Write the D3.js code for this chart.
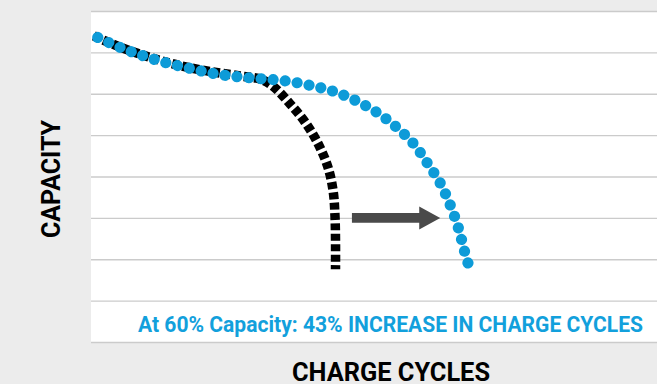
<!DOCTYPE html>
<html>
<head>
<meta charset="utf-8">
<script src="https://cdn.jsdelivr.net/npm/d3@7"></script>
<style>
  html, body { margin: 0; padding: 0; background: #ececec; }
  svg { display: block; }
</style>
</head>
<body>
<div id="corpo"></div>
<script>
// capacity (arbitrary units) vs charge cycles
var yTicks = [0, 10, 20, 30, 40, 50, 60, 70, 80];

// standard cell: black dashed curve
var stdCycles   = [5, 51, 104, 157, 210, 263, 302, 325, 352, 378, 401, 419, 428, 431, 432, 432];
var stdCapacity = [74.0, 71.3, 68.8, 66.8, 65.4, 64.3, 63.4, 61.4, 57.5, 53.2, 48.0, 42.1, 36.3, 30.7, 24.7, 17.6];

// improved cell: blue dotted curve
var newCycles   = [12, 53, 94, 135, 176, 220, 260, 303, 344, 388, 428, 467, 505, 539, 570, 594, 617, 635, 649, 660, 666];
var newCapacity = [73.6, 71.1, 69.1, 67.4, 66.1, 64.8, 64.1, 63.6, 63.1, 62.0, 60.6, 58.4, 55.5, 52.0, 47.9, 43.3, 38.4, 33.0, 27.6, 21.9, 19.1];
var newDots = 40;

// arrow: at capacity 30, from old to new end of life
var arrowCycles = [461, 617];
var arrowCapacity = 30;

var yLabel = "CAPACITY";
var xLabel = "CHARGE CYCLES";
var note = "At 60% Capacity: 43% INCREASE IN CHARGE CYCLES";

var width = 657, height = 384;
var plot = { left: 91, top: 11, right: 657, bottom: 342 };

var blue = "#0d9bd8";

var svg = d3.select("#corpo").append("svg")
  .attr("width", width)
  .attr("height", height);

svg.append("rect")
  .attr("width", width).attr("height", height)
  .attr("fill", "#ececec");

var x = d3.scaleLinear().domain([0, 1000]).range([plot.left, plot.right]);
var y = d3.scaleLinear().domain([0, 80]).range([plot.bottom, plot.top]);

// white plot area
svg.append("rect")
  .attr("x", plot.left).attr("y", plot.top)
  .attr("width", plot.right - plot.left)
  .attr("height", plot.bottom - plot.top)
  .attr("fill", "#fff");

/* gridlines */
var yAxis = d3.axisLeft(y).tickValues(yTicks)
  .tickSize(-(plot.right - plot.left)).tickFormat("");
var gy = svg.append("g")
  .attr("transform", "translate(" + plot.left + ",0)")
  .call(yAxis);
gy.select(".domain").remove();
gy.selectAll(".tick line").attr("stroke", "#cbcbcb").attr("stroke-width", 1.3);

var line = d3.line()
  .x(function(d) { return x(d[0]); })
  .y(function(d) { return y(d[1]); })
  .curve(d3.curveCatmullRom.alpha(0.5));

var stdData = stdCycles.map(function(c, i) { return [c, stdCapacity[i]]; });
var newData = newCycles.map(function(c, i) { return [c, newCapacity[i]]; });

svg.append("path")
  .attr("d", line(stdData))
  .attr("fill", "none")
  .attr("stroke", "#000")
  .attr("stroke-width", 9.5)
  .attr("stroke-dasharray", "7 3.4");

var bluePath = svg.append("path")
  .attr("d", line(newData))
  .attr("fill", "none")
  .attr("stroke", blue)
  .attr("stroke-width", 11.2)
  .attr("stroke-linecap", "round");
// spread the dots evenly so the last one sits on the end point
var len = bluePath.node().getTotalLength();
bluePath.attr("stroke-dasharray", "0.01 " + ((len - 0.3) / (newDots - 1) - 0.01));

// arrow
var ax0 = x(arrowCycles[0]), ax1 = x(arrowCycles[1]), ay = y(arrowCapacity);
var headLen = 21, headHalf = 11.5, shaftHalf = 4.8;
svg.append("path")
  .attr("d", "M" + ax0 + "," + (ay - shaftHalf) +
    "L" + (ax1 - headLen) + "," + (ay - shaftHalf) +
    "L" + (ax1 - headLen) + "," + (ay - headHalf) +
    "L" + ax1 + "," + ay +
    "L" + (ax1 - headLen) + "," + (ay + headHalf) +
    "L" + (ax1 - headLen) + "," + (ay + shaftHalf) +
    "L" + ax0 + "," + (ay + shaftHalf) + "Z")
  .attr("fill", "#4a4a4a");

/* textos */
svg.append("text")
  .attr("x", 138).attr("y", 331.5)
  .attr("font-family", "Roboto, sans-serif")
  .attr("font-weight", "bold")
  .attr("font-size", 21.5)
  .attr("fill", "#12a0dc")
  .attr("textLength", 505)
  .attr("lengthAdjust", "spacingAndGlyphs")
  .text(note);

svg.append("text")
  .attr("transform", "translate(60,179) rotate(-90)")
  .attr("text-anchor", "middle")
  .attr("font-family", "Roboto, sans-serif")
  .attr("font-weight", "bold")
  .attr("font-size", 25)
  .attr("fill", "#000")
  .attr("textLength", 118)
  .attr("lengthAdjust", "spacingAndGlyphs")
  .text(yLabel);

// the reference crops this label at the bottom edge; kept just inside
svg.append("text")
  .attr("x", 391).attr("y", 381)
  .attr("text-anchor", "middle")
  .attr("font-family", "Roboto, sans-serif")
  .attr("font-weight", "bold")
  .attr("font-size", 25)
  .attr("fill", "#000")
  .attr("textLength", 198)
  .attr("lengthAdjust", "spacingAndGlyphs")
  .text(xLabel);
</script>
</body>
</html>
